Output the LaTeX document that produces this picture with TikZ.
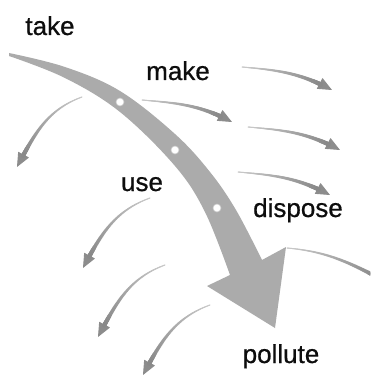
\documentclass[tikz,border=0pt]{standalone}
\usepackage{fontspec}
\setmainfont{Liberation Sans}
\newfontfamily\lblfont[BoldFont={Liberation Sans}, BoldFeatures={FakeBold=0.7}]{Liberation Sans}
\usetikzlibrary{arrows.meta,decorations.markings}
\tikzset{
  lbl/.style={anchor=base, inner sep=0pt, font=\lblfont\fontsize{26}{30}\bfseries\selectfont, text=black!95},
  mainarrow/.style={fill=black!33},
  dotmark/.style={fill=white, draw=black!20, line width=0.6pt},
  taper/.style={draw=black!25, line width=0.9pt,
    -{Triangle[length=14pt,width=12pt,color=black!45]},
    postaction={decorate, decoration={markings,
      mark=between positions 0 and 0.87 step 0.006 with {
        \pgfmathsetmacro\tr{0.45+0.012*\pgfkeysvalueof{/pgf/decoration/mark info/sequence number}}
        \pgfmathsetmacro\tc{20+0.18*\pgfkeysvalueof{/pgf/decoration/mark info/sequence number}}
        \fill[black!\tc] (0,0) circle[radius=\tr pt];
      }}}},
}
\begin{document}
\begin{tikzpicture}[x=1pt,y=-1pt]
\useasboundingbox (0,0) rectangle (370,377);
\clip (0,0) rectangle (370,377);
\fill[white] (0,0) rectangle (370,377);

% main arrow
\fill[mainarrow] plot[smooth, tension=0.6] coordinates {(9,53) (65,67) (120,91) (175,134) (210,172) (236,210) (262,260)}
  -- (286,247) -- (275,328) -- (207,286)
  -- plot[smooth, tension=0.6] coordinates {(230,275) (205,212) (175,166) (120,112) (65,78) (9,56)} -- cycle;
\node[dotmark, circle, minimum size=8pt, inner sep=0pt] (d1) at (120,102) {};
\node[dotmark, circle, minimum size=8pt, inner sep=0pt] (d2) at (175,150) {};
\node[dotmark, circle, minimum size=8pt, inner sep=0pt] (d3) at (217,208) {};

% small arrows: left-down
\coordinate (l1s) at (82,97);   \coordinate (l1e) at (17,167);
\coordinate (l2s) at (150,198); \coordinate (l2e) at (83,268);
\coordinate (l3s) at (165,265); \coordinate (l3e) at (98,337);
\coordinate (l4s) at (210,305); \coordinate (l4e) at (143,375);
\draw[taper] (l1s) to[out=200,in=62] (l1e);
\draw[taper] (l2s) to[out=200,in=62] (l2e);
\draw[taper] (l3s) to[out=200,in=62] (l3e);
\draw[taper] (l4s) to[out=200,in=62] (l4e);

% small arrows: right
\coordinate (r1s) at (242,67);  \coordinate (r1e) at (332,90);
\coordinate (r2s) at (142,100); \coordinate (r2e) at (232,122);
\coordinate (r3s) at (248,127); \coordinate (r3e) at (340,150);
\coordinate (r4s) at (238,172); \coordinate (r4e) at (330,195);
\coordinate (r5s) at (287,248); \coordinate (r5e) at (392,285);
\draw[taper] (r1s) to[out=-5,in=152] (r1e);
\draw[taper] (r2s) to[out=-5,in=152] (r2e);
\draw[taper] (r3s) to[out=-5,in=152] (r3e);
\draw[taper] (r4s) to[out=-5,in=152] (r4e);
\draw[taper] (r5s) to[out=-5,in=152] (r5e);

% labels
\node[lbl] (take) at (50,35) {take};
\node[lbl] (make) at (178,80) {make};
\node[lbl] (use) at (142,191) {use};
\node[lbl] (dispose) at (298,217) {dispose};
\node[lbl] (pollute) at (281,363) {pollute};
\end{tikzpicture}
\end{document}
